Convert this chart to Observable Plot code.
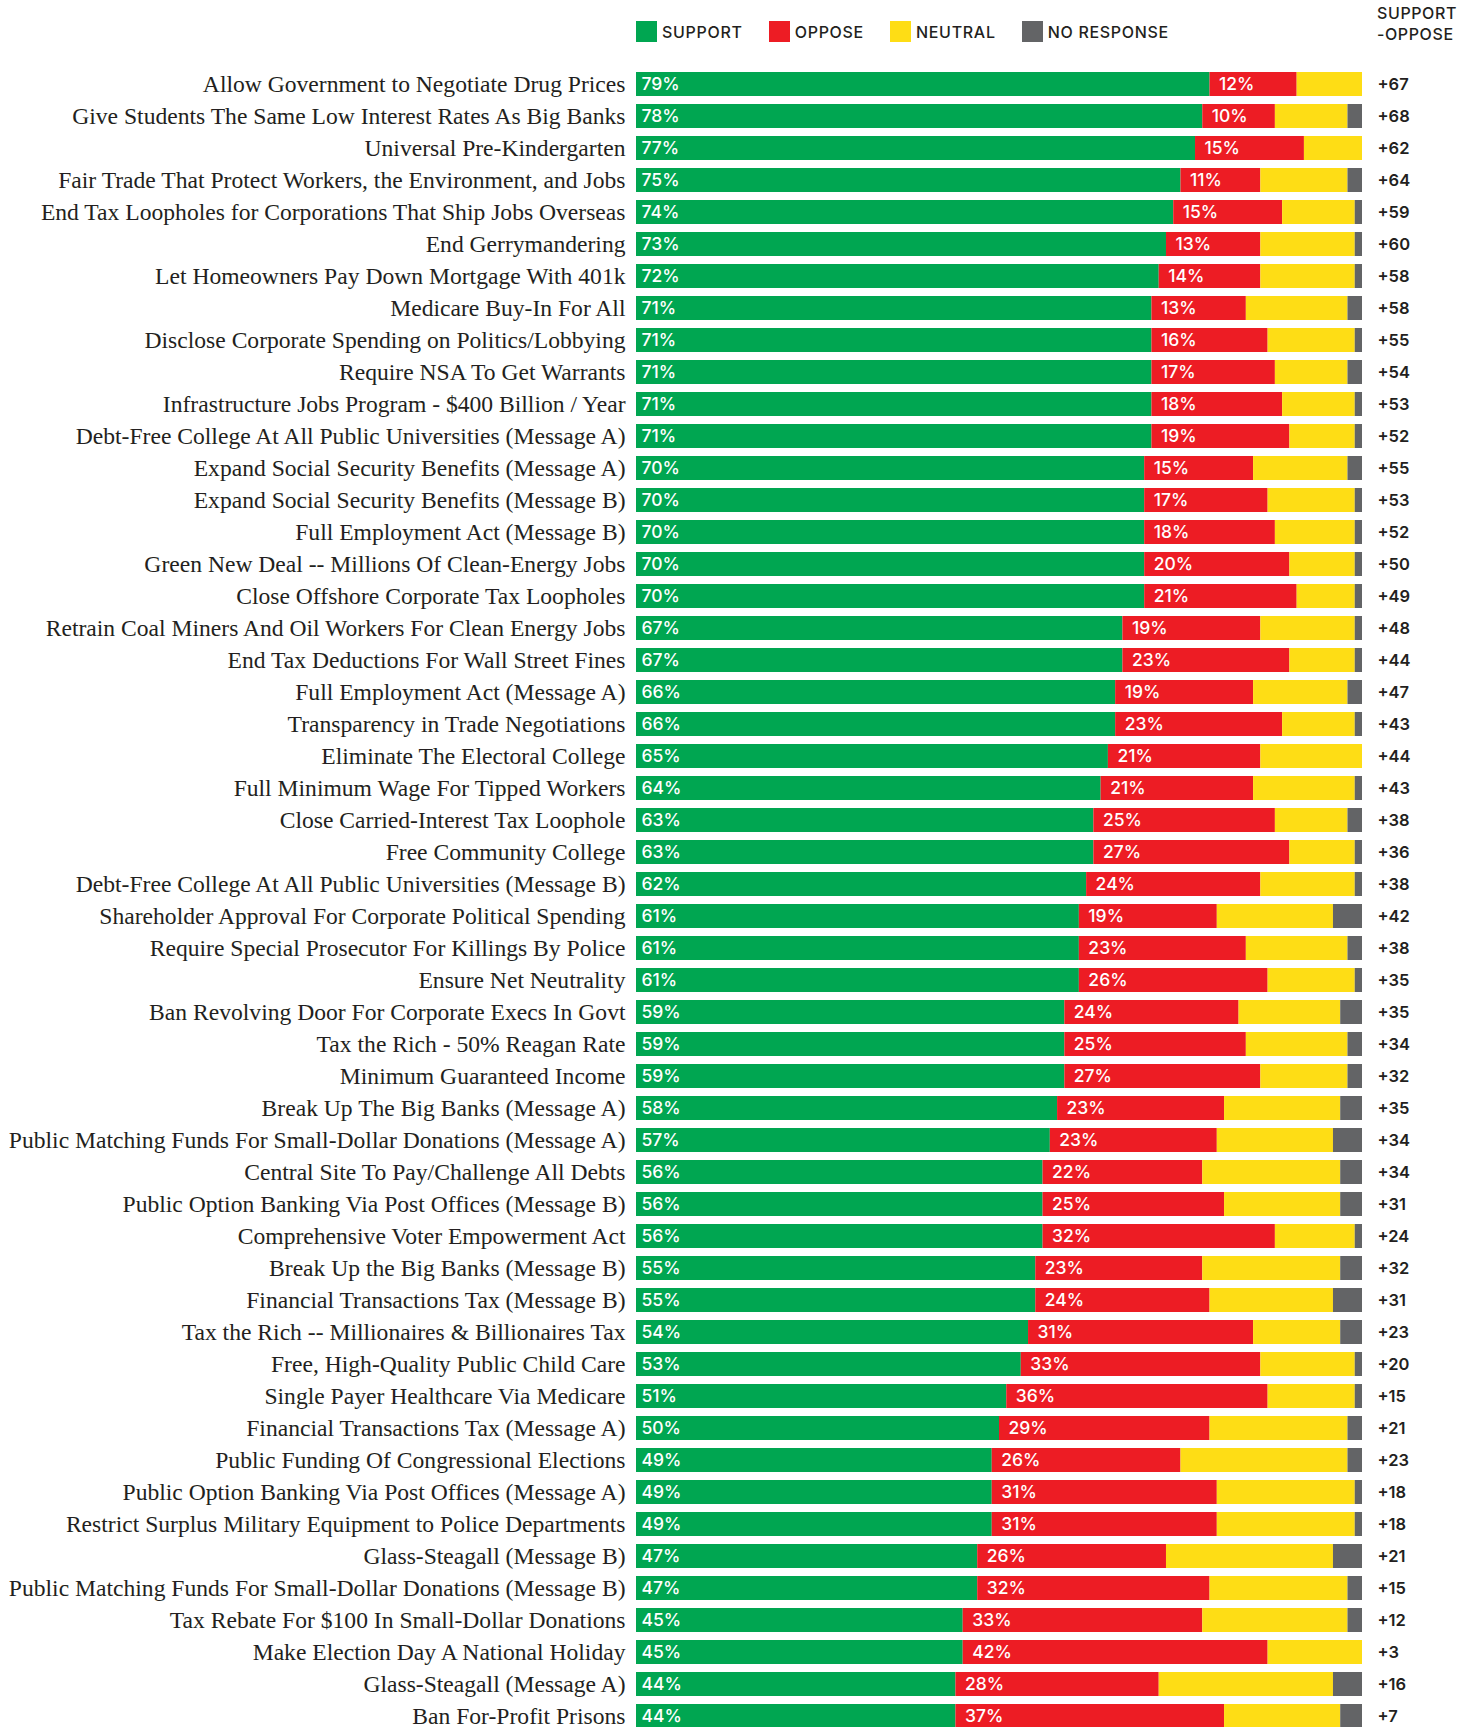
<!DOCTYPE html>
<html>
<head>
<meta charset="utf-8">
<script src="https://cdn.jsdelivr.net/npm/d3@7"></script>
<script src="https://cdn.jsdelivr.net/npm/@observablehq/plot@0.6"></script>
<style>
  html, body { margin: 0; padding: 0; background: #fff; overflow: hidden; }
  #header { position: relative; height: 50px; width: 1472px; font-family: Inter, "DejaVu Sans", sans-serif; font-weight: 500; color: #231f20; }
  #legend { position: absolute; left: 636px; top: 21px; display: flex; gap: 26px; align-items: center; }
  .item { display: flex; align-items: center; font-size: 16px; letter-spacing: 0.7px; }
  .sw { width: 21px; height: 21px; margin-right: 5px; }
  #diffhead { position: absolute; left: 1377px; top: 3px; font-size: 16px; line-height: 21px; letter-spacing: 0.6px; }
</style>
</head>
<body>
<div id="header">
  <div id="legend"></div>
  <div id="diffhead">SUPPORT<br>-OPPOSE</div>
</div>
<div id="chart"></div>
<script>
const labels = [
  "Allow Government to Negotiate Drug Prices",
  "Give Students The Same Low Interest Rates As Big Banks",
  "Universal Pre-Kindergarten",
  "Fair Trade That Protect Workers, the Environment, and Jobs",
  "End Tax Loopholes for Corporations That Ship Jobs Overseas",
  "End Gerrymandering",
  "Let Homeowners Pay Down Mortgage With 401k",
  "Medicare Buy-In For All",
  "Disclose Corporate Spending on Politics/Lobbying",
  "Require NSA To Get Warrants",
  "Infrastructure Jobs Program - $400 Billion / Year",
  "Debt-Free College At All Public Universities (Message A)",
  "Expand Social Security Benefits (Message A)",
  "Expand Social Security Benefits (Message B)",
  "Full Employment Act (Message B)",
  "Green New Deal -- Millions Of Clean-Energy Jobs",
  "Close Offshore Corporate Tax Loopholes",
  "Retrain Coal Miners And Oil Workers For Clean Energy Jobs",
  "End Tax Deductions For Wall Street Fines",
  "Full Employment Act (Message A)",
  "Transparency in Trade Negotiations",
  "Eliminate The Electoral College",
  "Full Minimum Wage For Tipped Workers",
  "Close Carried-Interest Tax Loophole",
  "Free Community College",
  "Debt-Free College At All Public Universities (Message B)",
  "Shareholder Approval For Corporate Political Spending",
  "Require Special Prosecutor For Killings By Police",
  "Ensure Net Neutrality",
  "Ban Revolving Door For Corporate Execs In Govt",
  "Tax the Rich - 50% Reagan Rate",
  "Minimum Guaranteed Income",
  "Break Up The Big Banks (Message A)",
  "Public Matching Funds For Small-Dollar Donations (Message A)",
  "Central Site To Pay/Challenge All Debts",
  "Public Option Banking Via Post Offices (Message B)",
  "Comprehensive Voter Empowerment Act",
  "Break Up the Big Banks (Message B)",
  "Financial Transactions Tax (Message B)",
  "Tax the Rich -- Millionaires & Billionaires Tax",
  "Free, High-Quality Public Child Care",
  "Single Payer Healthcare Via Medicare",
  "Financial Transactions Tax (Message A)",
  "Public Funding Of Congressional Elections",
  "Public Option Banking Via Post Offices (Message A)",
  "Restrict Surplus Military Equipment to Police Departments",
  "Glass-Steagall (Message B)",
  "Public Matching Funds For Small-Dollar Donations (Message B)",
  "Tax Rebate For $100 In Small-Dollar Donations",
  "Make Election Day A National Holiday",
  "Glass-Steagall (Message A)",
  "Ban For-Profit Prisons"
];
const support = [79,78,77,75,74,73,72,71,71,71,71,71,70,70,70,70,70,67,67,66,66,65,64,63,63,62,61,61,61,59,59,59,58,57,56,56,56,55,55,54,53,51,50,49,49,49,47,47,45,45,44,44];
const oppose  = [12,10,15,11,15,13,14,13,16,17,18,19,15,17,18,20,21,19,23,19,23,21,21,25,27,24,19,23,26,24,25,27,23,23,22,25,32,23,24,31,33,36,29,26,31,31,26,32,33,42,28,37];
const neutral = [9,10,8,12,10,13,13,14,12,10,10,9,13,12,11,9,8,13,9,13,10,14,14,10,9,13,16,14,12,14,14,12,16,16,19,16,11,19,17,12,13,12,19,23,19,19,23,19,20,13,24,16];
const noResponse = [0,2,0,2,1,1,1,2,1,2,1,1,2,1,1,1,1,1,1,2,1,0,1,2,1,1,4,2,1,3,2,2,3,4,3,3,1,3,4,3,1,1,2,2,1,1,4,2,2,0,4,3];
const netLabels = ["+67","+68","+62","+64","+59","+60","+58","+58","+55","+54","+53","+52","+55","+53","+52","+50","+49","+48","+44","+47","+43","+44","+43","+38","+36","+38","+42","+38","+35","+35","+34","+32","+35","+34","+34","+31","+24","+32","+31","+23","+20","+15","+21","+23","+18","+18","+21","+15","+12","+3","+16","+7"];
const keys = ["SUPPORT", "OPPOSE", "NEUTRAL", "NO RESPONSE"];
const colors = ["#00a651", "#ed1c24", "#fedd15", "#636466"];

const rows = labels.map((label, i) => ({label, support: support[i], oppose: oppose[i], neutral: neutral[i], noResponse: noResponse[i], net: netLabels[i]}));
const series = [support, oppose, neutral, noResponse];
const long = [];
rows.forEach((r, i) => keys.forEach((k, j) => long.push({label: r.label, key: k, value: series[j][i]})));

// legend
const legend = document.getElementById("legend");
keys.forEach((k, j) => {
  const it = document.createElement("div");
  it.className = "item";
  it.innerHTML = `<div class="sw" style="background:${colors[j]}"></div><span>${k}</span>`;
  legend.appendChild(it);
});

const chart = Plot.plot({
  width: 1472,
  height: 1682,
  marginLeft: 636,
  marginRight: 110,
  marginTop: 18,
  marginBottom: 0,
  x: {domain: [0, 100], axis: null},
  y: {domain: labels, axis: null, paddingInner: 0.25, paddingOuter: 0.125},
  color: {domain: keys, range: colors},
  style: {background: "#fff"},
  marks: [
    Plot.barX(long, {y: "label", x: "value", fill: "key"}),
    Plot.text(rows, {x: 0, y: "label", text: "label", textAnchor: "end", dx: -11, fontFamily: "'Liberation Serif', serif", fontSize: 23.6, fill: "#231f20"}),
    Plot.text(rows, {x: 0, y: "label", text: d => d.support + "%", textAnchor: "start", dx: 5, fontFamily: "Inter, sans-serif", fontWeight: 500, fontSize: 17.5, fill: "white"}),
    Plot.text(rows, {x: "support", y: "label", text: d => d.oppose + "%", textAnchor: "start", dx: 9, fontFamily: "Inter, sans-serif", fontWeight: 500, fontSize: 17.5, fill: "white"}),
    Plot.text(rows, {x: 100, y: "label", text: "net", textAnchor: "start", dx: 15, fontFamily: "Inter, sans-serif", fontWeight: 600, fontSize: 16.5, letterSpacing: 1, fill: "#231f20"})
  ]
});
document.getElementById("chart").appendChild(chart);
</script>
</body>
</html>
